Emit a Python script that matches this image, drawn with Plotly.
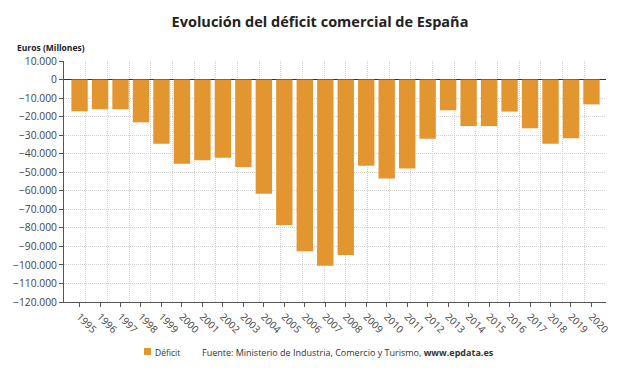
import plotly.graph_objects as go

years = [str(y) for y in range(1995, 2021)]
deficit = [-17100, -16000, -16000, -23100, -34600, -45400, -43600, -42200, -47200,
           -61600, -78400, -92600, -100500, -94600, -46500, -53400, -48000, -31900,
           -16600, -25100, -25100, -17300, -26300, -34600, -31700, -13400]
y_ticks = list(range(10000, -130000, -10000))

FONT = "Open Sans"
ORANGE = "#E3962F"
L, R, T, B = 64, 34, 61, 74
W, H = 640, 376
PW, PH = W - L - R, H - T - B


def px(x):
    return (x - L) / PW


def py(y):
    return (H - B - y) / PH


fig = go.Figure()
fig.add_trace(go.Bar(x=years, y=deficit, name="Déficit",
                     marker=dict(color=ORANGE, line=dict(width=0)), showlegend=False))
# invisible trace for the secondary grid axis
fig.add_trace(go.Scatter(x=[0, 25], y=[0, 0], xaxis="x2", mode="markers",
                         marker=dict(opacity=0), showlegend=False, hoverinfo="skip"))

GRID = dict(showgrid=True, griddash="1px,1px", gridcolor="#d2d2d2", gridwidth=1)

fig.update_layout(
    width=W, height=H,
    margin=dict(l=L, r=R, t=T, b=B, autoexpand=False),
    paper_bgcolor="white", plot_bgcolor="white",
    separators=",.",
    font=dict(family=FONT, color="#333333"),
    title=dict(text="<b>Evolución del déficit comercial de España</b>", x=0.5, xanchor="center",
               y=1 - 22 / H, yanchor="middle", font=dict(size=14.5, color="#222222", family=FONT)),
    bargap=0.2,
    showlegend=False,
    xaxis=dict(type="category", range=[-0.76, 25.71], tickangle=45, automargin=False,
               tickfont=dict(size=10, color="#444444"), showgrid=False,
               ticks="outside", ticklen=4, tickcolor="#555555",
               showline=True, linecolor="#555555", linewidth=1, zeroline=False),
    xaxis2=dict(overlaying="x", range=[0, 25], dtick=1, automargin=False,
                showticklabels=False, ticks="", zeroline=False, showline=False, **GRID),
    yaxis=dict(range=[-120000, 10000], tickvals=y_ticks, tickformat=",d", automargin=False,
               tickfont=dict(size=10.3, color="#444444"),
               zeroline=True, zerolinecolor="#333333", zerolinewidth=1.3,
               showline=True, linecolor="#555555", linewidth=1,
               ticks="outside", ticklen=4, tickcolor="#555555", **GRID),
    shapes=[
        dict(type="rect", xref="paper", yref="paper",
             x0=px(144), x1=px(151), y0=py(355), y1=py(348),
             fillcolor=ORANGE, line=dict(width=0)),
    ],
    annotations=[
        dict(text="<b>Euros (Millones)</b>", xref="paper", yref="paper", x=px(15), y=py(48),
             xanchor="left", yanchor="middle", showarrow=False,
             font=dict(size=8.5, color="#222222", family=FONT)),
        dict(text="Déficit", xref="paper", yref="paper", x=px(153), y=py(352),
             xanchor="left", yanchor="middle", showarrow=False,
             font=dict(size=8.5, color="#333333", family=FONT)),
        dict(text="Fuente: Ministerio de Industria, Comercio y Turismo, <b>www.epdata.es</b>",
             xref="paper", yref="paper", x=px(200), y=py(352), xanchor="left", yanchor="middle",
             showarrow=False, font=dict(size=9, color="#333333", family=FONT)),
    ],
)

fig.write_html("out.html", config={"displayModeBar": False},
               post_script="document.body.style.margin='0';")
